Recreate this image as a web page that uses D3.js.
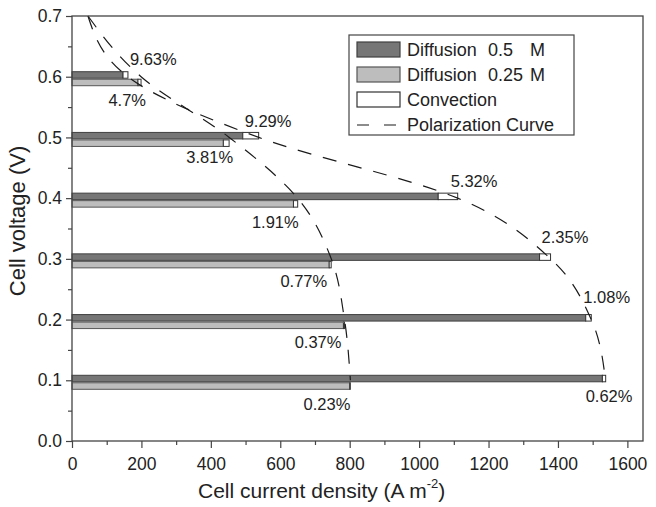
<!DOCTYPE html>
<html>
<head>
<meta charset="utf-8">
<script src="https://cdn.jsdelivr.net/npm/d3@7/dist/d3.min.js"></script>
<style>
  body { margin: 0; background: #fff; }
  text { font-family: "Liberation Sans", Arial, sans-serif; fill: #222; }
</style>
</head>
<body>
<div id="chart"></div>
<script>
// chart data
const voltages = [0.6, 0.5, 0.4, 0.3, 0.2, 0.1];
const diffusion05 = [147, 492, 1055, 1347, 1480, 1528];
const diffusion025 = [190, 436, 638, 741, 782, 800];
const gain05 = [9.63, 9.29, 5.32, 2.35, 1.08, 0.62];
const gain025 = [4.7, 3.81, 1.91, 0.77, 0.37, 0.23];

// polarization curves
const polVoltage = [0.7, 0.6, 0.5, 0.4, 0.3, 0.2, 0.1];
const pol05 = [46, 161, 538, 1111, 1379, 1496, 1537];
const pol025 = [46, 199, 453, 650, 747, 785, 802];

const xTicks = [0, 200, 400, 600, 800, 1000, 1200, 1400, 1600];
const yTicks = [0.0, 0.1, 0.2, 0.3, 0.4, 0.5, 0.6, 0.7];

const legendLabels = ["Diffusion", "Diffusion", "Convection", "Polarization Curve"];
const legendConc = ["0.5", "0.25"];

// label placement (px offsets from the convection tip)
const darkLabelDx = [2, -14, -7, -9, -8, -20];
const darkLabelDy = [-12, -10, -11, -16, -17, 22];
const lightLabelDx = [5, 4, 1, -4, -3, 0];
const lightLabelDy = [29, 26, 30, 28, 28, 30];

const width = 656;
const height = 507;
const plotL = 72, plotR = 643, plotT = 16, plotB = 441;

const svg = d3.select("#chart")
  .append("svg")
  .attr("width", width)
  .attr("height", height);

const x = d3.scaleLinear().domain([0, 1645]).range([plotL, plotR]);
const y = d3.scaleLinear().domain([0, 0.7]).range([plotB, plotT]);

const darkFill = "#767676", darkStroke = "#404040";
const lightFill = "#bdbdbd", lightStroke = "#555";

// bars
const barH = 6.5;
const g = svg.append("g");

voltages.forEach((v, i) => {
  const yy = y(v);
  const end05 = diffusion05[i] * (1 + gain05[i] / 100);
  const end025 = diffusion025[i] * (1 + gain025[i] / 100);

  // 0.5 M (above the tick)
  g.append("rect")
    .attr("x", x(0)).attr("y", yy - 5)
    .attr("width", x(diffusion05[i]) - x(0)).attr("height", barH)
    .attr("fill", darkFill).attr("stroke", darkStroke).attr("stroke-width", 1);
  g.append("rect")
    .attr("x", x(diffusion05[i])).attr("y", yy - 5)
    .attr("width", x(end05) - x(diffusion05[i])).attr("height", barH)
    .attr("fill", "#fff").attr("stroke", "#333").attr("stroke-width", 1);

  // 0.25 M (below the tick)
  g.append("rect")
    .attr("x", x(0)).attr("y", yy + 2.5)
    .attr("width", x(diffusion025[i]) - x(0)).attr("height", barH)
    .attr("fill", lightFill).attr("stroke", lightStroke).attr("stroke-width", 1);
  g.append("rect")
    .attr("x", x(diffusion025[i])).attr("y", yy + 2.5)
    .attr("width", x(end025) - x(diffusion025[i])).attr("height", barH)
    .attr("fill", "#fff").attr("stroke", "#333").attr("stroke-width", 1);

  g.append("text")
    .attr("x", x(end05) + darkLabelDx[i])
    .attr("y", yy + darkLabelDy[i])
    .attr("font-size", "16.5px")
    .text(gain05[i] + "%");

  g.append("text")
    .attr("x", x(end025) + lightLabelDx[i])
    .attr("y", yy + lightLabelDy[i])
    .attr("text-anchor", "end")
    .attr("font-size", "16.5px")
    .text(gain025[i] + "%");
});

// polarization curves
const line = d3.line()
  .x(d => x(d[0]))
  .y(d => y(d[1]))
  .curve(d3.curveMonotoneY);

[pol05, pol025].forEach(series => {
  svg.append("path")
    .attr("d", line(series.map((c, i) => [c, polVoltage[i]])))
    .attr("fill", "none")
    .attr("stroke", "#1a1a1a")
    .attr("stroke-width", 1.2)
    .attr("stroke-dasharray", "14,12");
});

// axes
svg.append("g")
  .attr("transform", `translate(0,${plotB})`)
  .call(d3.axisBottom(x).tickValues(xTicks).tickFormat(d3.format("d"))
    .tickSize(7).tickPadding(10).tickSizeOuter(0));
svg.append("g")
  .attr("transform", `translate(0,${plotB})`)
  .call(d3.axisBottom(x).tickValues(d3.range(100, 1600, 200)).tickSize(4).tickFormat("").tickSizeOuter(0));

svg.append("g")
  .attr("transform", `translate(${plotL},0)`)
  .call(d3.axisLeft(y).tickValues(yTicks).tickFormat(d3.format(".1f")).tickSize(6).tickPadding(4).tickSizeOuter(0));
svg.append("g")
  .attr("transform", `translate(${plotL},0)`)
  .call(d3.axisLeft(y).tickValues([0.05, 0.15, 0.25, 0.35, 0.45, 0.55, 0.65]).tickSize(4).tickFormat("").tickSizeOuter(0));

svg.selectAll(".domain").remove();
svg.selectAll(".tick line").attr("stroke", "#444").attr("stroke-width", 1.2);
svg.selectAll(".tick text")
  .attr("font-size", "17.5px")
  .attr("fill", "#222")
  .style("font-family", "'Liberation Sans', Arial, sans-serif");

// plot frame
svg.append("rect")
  .attr("x", plotL).attr("y", plotT)
  .attr("width", plotR - plotL).attr("height", plotB - plotT)
  .attr("fill", "none")
  .attr("stroke", "#444")
  .attr("stroke-width", 1.3);

// axis titles
const xt = svg.append("text")
  .attr("x", 198).attr("y", 498)
  .attr("font-size", "21px")
  .text("Cell current density (A m");
xt.append("tspan").attr("font-size", "13px").attr("dy", -10).text("-2");
xt.append("tspan").attr("dy", 10).text(")");

svg.append("text")
  .attr("transform", "translate(25,221) rotate(-90)")
  .attr("text-anchor", "middle")
  .attr("font-size", "22px")
  .text("Cell voltage (V)");

// legend
const lg = svg.append("g");
lg.append("rect")
  .attr("x", 349).attr("y", 35)
  .attr("width", 225).attr("height", 100)
  .attr("fill", "#fff")
  .attr("stroke", "#444")
  .attr("stroke-width", 1.2);

const swatchFill = [darkFill, lightFill, "#fff"];
const swatchStroke = [darkStroke, lightStroke, "#333"];
legendLabels.forEach((label, i) => {
  const rowY = 42 + i * 25;
  if (i < 3) {
    lg.append("rect")
      .attr("x", 357).attr("y", rowY)
      .attr("width", 43).attr("height", 15)
      .attr("fill", swatchFill[i])
      .attr("stroke", swatchStroke[i])
      .attr("stroke-width", 1.2);
  } else {
    lg.append("line")
      .attr("x1", 357).attr("x2", 400)
      .attr("y1", rowY + 8).attr("y2", rowY + 8)
      .attr("stroke", "#1a1a1a")
      .attr("stroke-width", 1.2)
      .attr("stroke-dasharray", "12,15");
  }
  lg.append("text")
    .attr("x", 407).attr("y", rowY + 14)
    .attr("font-size", "18px")
    .text(label);
  if (i < 2) {
    lg.append("text")
      .attr("x", 488).attr("y", rowY + 14)
      .attr("font-size", "18px")
      .text(legendConc[i]);
    lg.append("text")
      .attr("x", 530).attr("y", rowY + 14)
      .attr("font-size", "18px")
      .text("M");
  }
});
</script>
</body>
</html>
